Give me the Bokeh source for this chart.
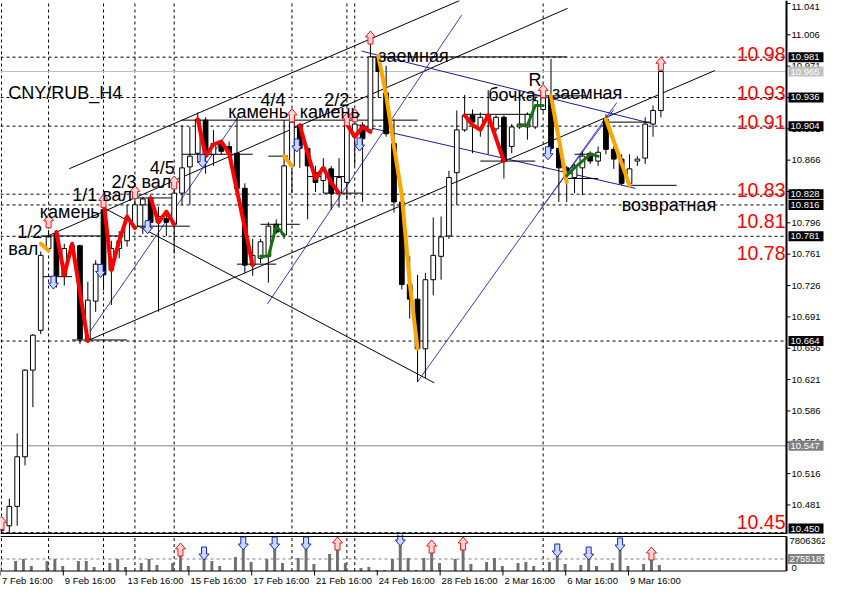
from bokeh.plotting import figure
from bokeh.models import Range1d, ColumnDataSource
from bokeh.layouts import column
from bokeh.core.properties import value
from bokeh.embed import file_html
from bokeh.resources import INLINE

# ---------------- data (CNY/RUB, H4 bars, index 0 = 7 Feb 16:00) ----------------
opens = [10.4523, 10.4577, 10.4794, 10.5348, 10.6315, 10.6760, 10.7673, 10.7836, 10.7369, 10.7673,
         10.7705, 10.6663, 10.7086, 10.8107, 10.7434, 10.7673, 10.7760, 10.7912, 10.8162, 10.8238,
         10.7966, 10.8010, 10.7944, 10.8292, 10.8585, 10.8737, 10.9107, 10.8726, 10.8846, 10.8813,
         10.8737, 10.8346, 10.7488, 10.7564, 10.7586, 10.7944, 10.7825, 10.8596, 10.9052, 10.8792,
         10.8520, 10.8433, 10.8563, 10.8292, 10.8411, 10.8922, 10.9052, 10.8998, 10.9813, 10.9411,
         10.8846, 10.8194, 10.7271, 10.7108, 10.6554, 10.7325, 10.7586, 10.7814, 10.8520, 10.8998,
         10.9161, 10.9009, 10.9117, 10.9009, 10.9139, 10.8813, 10.9031, 10.9031, 10.9031, 10.9226,
         10.9378, 10.8792, 10.8574, 10.8466, 10.8574, 10.8737, 10.8650, 10.9117, 10.8781, 10.8672,
         10.8401, 10.8650, 10.8683, 10.9063, 10.9215]
highs = [10.4545, 10.4881, 10.5609, 10.6326, 10.6717, 10.7640, 10.7879, 10.7857, 10.7727, 10.7727,
         10.7716, 10.7303, 10.7542, 10.8140, 10.7760, 10.7868, 10.8162, 10.8270, 10.8248, 10.8270,
         10.8140, 10.8053, 10.8455, 10.9052, 10.9031, 10.9193, 10.9139, 10.8998, 10.8889, 10.8868,
         10.9139, 10.8401, 10.7781, 10.7781, 10.7966, 10.7999, 10.9107, 10.9215, 10.9063, 10.8813,
         10.8596, 10.8683, 10.8596, 10.8683, 10.9139, 10.9139, 10.9085, 10.9976, 10.9823, 10.9715,
         10.9117, 10.8216, 10.7586, 10.7380, 10.7401, 10.8020, 10.8031, 10.8542, 10.9215, 10.9389,
         10.9226, 10.9193, 10.9443, 10.9161, 10.9161, 10.9063, 10.9378, 10.9193, 10.9356, 10.9411,
         10.9791, 10.8813, 10.8596, 10.8618, 10.8759, 10.8759, 10.8813, 10.9172, 10.8813, 10.8726,
         10.8726, 10.8705, 10.9139, 10.9270, 10.9660]
lows = [10.4501, 10.4501, 10.4577, 10.5251, 10.5902, 10.6717, 10.7640, 10.7238, 10.7260, 10.7640,
        10.6608, 10.6640, 10.6967, 10.7206, 10.7043, 10.7564, 10.7695, 10.7890, 10.7836, 10.7923,
        10.6967, 10.7814, 10.7618, 10.8162, 10.8162, 10.8629, 10.8509, 10.8596, 10.8726, 10.8705,
        10.8325, 10.7401, 10.7369, 10.7510, 10.7293, 10.7836, 10.7781, 10.8292, 10.8574, 10.7999,
        10.8303, 10.8292, 10.8107, 10.8129, 10.8216, 10.8596, 10.8194, 10.8976, 10.9356, 10.8922,
        10.8075, 10.7217, 10.6891, 10.6185, 10.6228, 10.7151, 10.7325, 10.7781, 10.8162, 10.8976,
        10.8737, 10.8922, 10.8726, 10.8976, 10.8455, 10.8737, 10.9009, 10.8889, 10.9009, 10.9204,
        10.8759, 10.8194, 10.8194, 10.8292, 10.8270, 10.8618, 10.8596, 10.8726, 10.8563, 10.8379,
        10.8379, 10.8596, 10.8618, 10.8922, 10.9139]
closes = [10.4534, 10.4794, 10.5348, 10.6315, 10.6706, 10.7597, 10.7803, 10.7369, 10.7673, 10.7705,
          10.6663, 10.7097, 10.7499, 10.7380, 10.7673, 10.7760, 10.8020, 10.8162, 10.8227, 10.7966,
          10.8031, 10.7966, 10.8292, 10.8574, 10.8705, 10.9117, 10.8705, 10.8846, 10.8759, 10.8737,
          10.8346, 10.7488, 10.7597, 10.7749, 10.7923, 10.7857, 10.8596, 10.9085, 10.8792, 10.8596,
          10.8411, 10.8574, 10.8292, 10.8466, 10.9052, 10.9063, 10.8900, 10.9813, 10.9650, 10.8955,
          10.8194, 10.7271, 10.7108, 10.6554, 10.7325, 10.7597, 10.7803, 10.8466, 10.8998, 10.9161,
          10.9085, 10.9139, 10.9161, 10.9139, 10.8650, 10.9031, 10.9063, 10.9172, 10.9324, 10.9356,
          10.8792, 10.8574, 10.8542, 10.8596, 10.8705, 10.8650, 10.8748, 10.8781, 10.8672, 10.8401,
          10.8563, 10.8672, 10.9063, 10.9215, 10.9650]
volumes = [1538000, 0, 2296000, 2755000, 1148000, 0, 2296000, 2755000, 1148000, 0,
           2296000, 2296000, 918000, 0, 1837000, 2755000, 918000, 0, 1837000, 2755000,
           1378000, 0, 1837000, 3674000, 1148000, 0, 2755000, 2296000, 1148000, 0,
           3214000, 5051000, 2066000, 0, 2755000, 5051000, 1837000, 0, 2985000, 5051000,
           1607000, 0, 3903000, 5051000, 1837000, 0, 689000, 918000, 230000, 230000,
           2755000, 5970000, 2985000, 230000, 2985000, 4362000, 1837000, 0, 2755000, 5051000,
           1607000, 0, 2066000, 2985000, 1148000, 0, 1837000, 2066000, 1148000, 0,
           2066000, 3444000, 1607000, 0, 1378000, 2755000, 1148000, 0, 1837000, 4822000,
           1148000, 0, 1607000, 2755000, 1378000]

date_labels = ["7 Feb 16:00", "9 Feb 16:00", "13 Feb 16:00", "15 Feb 16:00", "17 Feb 16:00",
               "21 Feb 16:00", "24 Feb 16:00", "28 Feb 16:00", "2 Mar 16:00", "6 Mar 16:00",
               "9 Mar 16:00"]
bars_per_label = 8

price_ticks = [11.041, 11.006, 10.971, 10.936, 10.901, 10.866, 10.831, 10.796, 10.761, 10.726,
               10.691, 10.656, 10.621, 10.586, 10.551, 10.516, 10.481, 10.446]
marked_levels = [10.981, 10.936, 10.904, 10.828, 10.816, 10.781, 10.664, 10.450]
bid_level = 10.965
grey_level = 10.547
vol_max = 7806362
vol_avg = 2755187
level_texts = ["10.98", "10.93", "10.91", "10.83", "10.81", "10.78", "10.45"]
level_text_prices = [10.9845, 10.9411, 10.9085, 10.8325, 10.7977, 10.7618, 10.4620]

signal_bars = [0, 6, 13, 17, 22, 37, 44, 45, 69]
up_arrow_bars = [0, 6, 13, 17, 22, 37, 44, 45, 47, 69, 84]
up_arrow_prices = [10.4610, 10.7977, 10.8205, 10.8303, 10.8411, 10.9161, 10.9117, 10.9161,
                   11.0030, 10.9432, 10.9737]
down_arrow_bars = [7, 13, 19, 26, 38, 46, 70]
down_arrow_prices = [10.7293, 10.7423, 10.7912, 10.8650, 10.8824, 10.8835, 10.8737]
vol_up_bars = [23, 43, 55, 59, 83]
vol_down_bars = [26, 31, 35, 39, 51, 71, 75, 79]

note_texts = ["CNY/RUB_H4", "1/2", "вал", "камень", "1/1 вал", "2/3 вал", "4/5", "4/4", "камень",
              "2/2", "камень", "заемная", "R", "бочка", "заемная", "возвратная"]
note_bars = [0.875, 2, 0.875, 4.875, 9, 14, 18.875, 33, 28.875, 41.125, 38, 48, 67.125, 62,
             70.125, 79]
note_prices = [10.9411, 10.7857, 10.7673, 10.8086, 10.8270, 10.8411, 10.8574, 10.9335, 10.9193,
               10.9335, 10.9193, 10.9823, 10.9552, 10.9389, 10.9411, 10.8162]

red_zigzags = [([7, 8, 9, 11], [10.7857, 10.7380, 10.7727, 10.6641]),
               ([13, 14, 15, 16, 17], [10.8216, 10.7434, 10.7760, 10.8031, 10.7901]),
               ([19, 20, 21, 22], [10.8238, 10.7966, 10.8086, 10.7944]),
               ([25, 26, 27, 28, 29, 32], [10.9117, 10.8705, 10.8835, 10.8868, 10.8737, 10.7488]),
               ([38, 39, 40, 41, 42, 43], [10.9052, 10.8737, 10.8455, 10.8574, 10.8411, 10.8292]),
               ([44, 45, 46, 47], [10.9063, 10.8922, 10.9031, 10.8976]),
               ([59, 60, 61, 62, 64], [10.9161, 10.9052, 10.8998, 10.9161, 10.8650])]
orange_zigzags = [([5, 6], [10.7727, 10.7651]),
                  ([36, 37], [10.8705, 10.8596]),
                  ([48, 49, 50, 51, 52, 53], [10.9823, 10.9389, 10.8813, 10.8270, 10.7293, 10.6554]),
                  ([70, 72], [10.9378, 10.8411]),
                  ([77, 80], [10.9117, 10.8379])]
green_zigzags = [([33, 34, 35, 36], [10.7586, 10.7586, 10.7923, 10.7825]),
                 ([66, 67, 68, 69], [10.9052, 10.9052, 10.9270, 10.9270]),
                 ([72, 73, 74, 75, 76], [10.8487, 10.8574, 10.8650, 10.8726, 10.8705])]

black_lines = [(8.625, 10.8564, 58.375, 11.0443),
               (5.625, 10.7803, 72.125, 11.0356),
               (10.875, 10.6641, 90.875, 10.9661),
               (13.0, 10.8129, 55.125, 10.6174)]
blue_lines = [(10.625, 10.6663, 30.125, 10.9139),
              (33.875, 10.7054, 58.625, 11.0280),
              (53.0, 10.6185, 78.375, 10.9302),
              (68.375, 10.8075, 78.0, 10.9226)]
navy_lines = [(45.875, 10.9878, 82.625, 10.9074),
              (44.875, 10.9063, 80.75, 10.8346)]
level_segments = [(5, 15, 10.7814), (5, 9, 10.7359), (9, 16, 10.6652), (17, 22, 10.8238),
                  (17, 24, 10.7923), (23, 53, 10.9107), (23, 32, 10.8726), (30, 35, 10.7499),
                  (33, 38, 10.7944), (34, 36.5, 10.8705), (39, 44, 10.8477), (41, 46, 10.8292),
                  (47, 72, 10.9813), (59, 67.5, 10.9172), (61, 68, 10.8650), (67, 74.5, 10.9378),
                  (72, 76, 10.8455), (73, 76, 10.8726), (76.5, 83, 10.9085), (80, 86, 10.8379)]

# ---------------- layout constants ----------------
FONT = "Liberation Sans"
AX_FONT = "9.5px"
W, MAIN_H, VOL_H = 825, 534, 57
X0, AXIS_X = -0.125, 100.0           # chart area ends at the price axis
PXB = 786 / (AXIS_X - X0)             # pixels per bar
X_END = X0 + W / PXB
P_LO, P_HI = 10.448, 11.0443
PPX = (P_HI - P_LO) / MAIN_H          # price per pixel
VPX = vol_max / 34.0                  # volume per pixel (pane 34 px high)
V_LO, V_HI = -20.5 * VPX, vol_max + 2.5 * VPX

bars = list(range(len(opens)))
x_range = Range1d(X0, X_END)


def px_x(n):
    return n / PXB


def clamp_label(y):
    return min(max(y, P_LO + 6 * PPX), P_HI - 6 * PPX)


def arrow_shapes(xs, ys, up, yscale, dx=0.0, dy=0.0):
    shape = [(0, -6.5), (5, -0.5), (2.5, -0.5), (2.5, 6.5), (-2.5, 6.5), (-2.5, -0.5), (-5, -0.5)]
    if not up:
        shape = [(sx, -sy) for sx, sy in shape]
    px = [[x + (sx + dx) / PXB for sx, _ in shape] for x in xs]
    py = [[y - (sy + dy) * yscale for _, sy in shape] for y in ys]
    return px, py


UP_LINE, UP_FILL = "#FF1010", "#FFD8D8"
DN_LINE, DN_FILL = "#2222CC", "#C8DCFF"

# ---------------- price pane ----------------
p = figure(width=W, height=MAIN_H, x_range=x_range, y_range=Range1d(P_LO, P_HI),
           output_backend="svg", toolbar_location=None, x_axis_location=None,
           y_axis_location=None, min_border=0)
p.outline_line_color = None
p.grid.grid_line_color = None

p.segment(x0=signal_bars, x1=signal_bars, y0=[P_LO] * len(signal_bars),
          y1=[P_HI] * len(signal_bars), line_color="black", line_dash="3 3", line_width=1)
p.segment(x0=[X0] * len(marked_levels), x1=[AXIS_X] * len(marked_levels), y0=marked_levels,
          y1=marked_levels, line_color="black", line_dash="3 3", line_width=1)
p.segment(x0=[X0], x1=[AXIS_X], y0=[bid_level], y1=[bid_level], line_color="#C0C0C0", line_width=1)
p.segment(x0=[X0], x1=[AXIS_X], y0=[grey_level], y1=[grey_level], line_color="#808080", line_width=1)


def seg(lines):
    return dict(x0=[l[0] for l in lines], y0=[l[1] for l in lines],
                x1=[l[2] for l in lines], y1=[l[3] for l in lines])


p.segment(source=ColumnDataSource(seg(black_lines)), x0="x0", y0="y0", x1="x1", y1="y1",
          line_color="black", line_width=1)
p.segment(source=ColumnDataSource(seg(blue_lines)), x0="x0", y0="y0", x1="x1", y1="y1",
          line_color="#3A3AC8", line_width=1)
p.segment(source=ColumnDataSource(seg(navy_lines)), x0="x0", y0="y0", x1="x1", y1="y1",
          line_color="#1A1A9A", line_width=1)
p.segment(x0=[s[0] for s in level_segments], x1=[s[1] for s in level_segments],
          y0=[s[2] for s in level_segments], y1=[s[2] for s in level_segments],
          line_color="black", line_width=1)

src = ColumnDataSource(dict(
    x=bars, h=highs, l=lows,
    top=[max(o, c) for o, c in zip(opens, closes)],
    bottom=[min(o, c) for o, c in zip(opens, closes)],
    fill=["white" if c >= o else "black" for o, c in zip(opens, closes)]))
p.segment(x0="x", y0="l", x1="x", y1="h", source=src, line_color="black", line_width=1)
p.vbar(x="x", width=0.6, top="top", bottom="bottom", fill_color="fill", line_color="black",
       line_width=1, source=src)

for xs, ys in orange_zigzags:
    p.line(xs, ys, line_color="#FFA500", line_width=4, line_join="round", line_cap="round")
for xs, ys in red_zigzags:
    p.line(xs, ys, line_color="#FF0000", line_width=4, line_join="round", line_cap="round")
for xs, ys in green_zigzags:
    p.line(xs, ys, line_color="#127512", line_width=3, line_join="round", line_cap="round")

ux, uy = arrow_shapes(up_arrow_bars, up_arrow_prices, True, PPX)
p.patches(ux, uy, fill_color=UP_FILL, line_color=UP_LINE, line_width=1)
dx_, dy_ = arrow_shapes(down_arrow_bars, down_arrow_prices, False, PPX, dx=-3)
p.patches(dx_, dy_, fill_color=DN_FILL, line_color=DN_LINE, line_width=1)

p.text(x=note_bars, y=note_prices, text=note_texts, text_font=value(FONT),
       text_font_size="18px", text_color="black", text_baseline="alphabetic")
p.text(x=[AXIS_X - px_x(1)] * len(level_texts), y=level_text_prices, text=level_texts,
       text_font=value(FONT), text_font_size="19.5px", text_color="#FF0000", text_align="right",
       text_baseline="alphabetic")

# bottom edge of the price pane
p.segment(x0=[X0], x1=[AXIS_X], y0=[P_LO + 0.8 * PPX], y1=[P_LO + 0.8 * PPX],
          line_color="black", line_width=2)

# price axis (right)
p.segment(x0=[AXIS_X], x1=[AXIS_X], y0=[P_LO], y1=[P_HI], line_color="black", line_width=2)
p.segment(x0=[AXIS_X] * len(price_ticks), x1=[AXIS_X + px_x(4)] * len(price_ticks),
          y0=price_ticks, y1=price_ticks, line_color="black", line_width=1)
p.text(x=[AXIS_X + px_x(5)] * len(price_ticks), y=[clamp_label(t) for t in price_ticks],
       text=[f"{t:.3f}" for t in price_ticks], text_font=value(FONT), text_font_size=AX_FONT,
       text_color="black", text_baseline="middle")

box_values = marked_levels + [bid_level, grey_level]
box_colors = ["black"] * len(marked_levels) + ["#C0C0C0", "#808080"]
box_y = [clamp_label(b) for b in box_values]
p.rect(x=[AXIS_X + px_x(19.5)] * len(box_values), y=box_y, width=35, height=10,
       width_units="screen", height_units="screen", fill_color=box_colors, line_color=None)
p.text(x=[AXIS_X + px_x(4)] * len(box_values), y=box_y,
       text=[f"{b:.3f}" for b in box_values], text_font=value(FONT), text_font_size=AX_FONT,
       text_color="white", text_baseline="middle")

# ---------------- volume pane ----------------
v = figure(width=W, height=VOL_H, x_range=x_range, y_range=Range1d(V_LO, V_HI),
           output_backend="svg", toolbar_location=None, x_axis_location=None,
           y_axis_location=None, min_border=0)
v.outline_line_color = None
v.grid.grid_line_color = None

v.segment(x0=signal_bars, x1=signal_bars, y0=[0] * len(signal_bars),
          y1=[vol_max] * len(signal_bars), line_color="black", line_dash="3 3", line_width=1)
v.segment(x0=[X0], x1=[AXIS_X], y0=[vol_avg], y1=[vol_avg], line_color="#808080",
          line_dash="3 3", line_width=1)
vx = [b - 0.2 for b in bars]
v.vbar(x=vx, width=0.375, top=volumes, bottom=0, fill_color="#707070", line_color=None)

vu_x, vu_y = arrow_shapes([b - 0.2 for b in vol_up_bars], [volumes[b] for b in vol_up_bars],
                          True, VPX, dy=-5.5)
v.patches(vu_x, vu_y, fill_color=UP_FILL, line_color=UP_LINE, line_width=1)
vd_x, vd_y = arrow_shapes([b - 0.2 for b in vol_down_bars], [volumes[b] for b in vol_down_bars],
                          False, VPX, dy=-5.5)
v.patches(vd_x, vd_y, fill_color=DN_FILL, line_color=DN_LINE, line_width=1)

# pane frame
v.segment(x0=[X0, X0], x1=[AXIS_X, AXIS_X], y0=[vol_max + 0.5 * VPX, 0], y1=[vol_max + 0.5 * VPX, 0],
          line_color="black", line_width=1)
v.segment(x0=[AXIS_X], x1=[AXIS_X], y0=[0], y1=[vol_max + 0.5 * VPX], line_color="black",
          line_width=2)
v.text(x=[AXIS_X + px_x(3)], y=[vol_max - 0.5 * VPX], text=[str(vol_max)],
       text_font=value(FONT), text_font_size=AX_FONT, text_color="black", text_baseline="top")
v.text(x=[AXIS_X + px_x(5)], y=[0.5 * VPX], text=["0"],
       text_font=value(FONT), text_font_size=AX_FONT, text_color="black", text_baseline="bottom")
v.rect(x=[AXIS_X + px_x(19.5)], y=[vol_avg], width=37, height=10, width_units="screen",
       height_units="screen", fill_color="#808080", line_color=None)
v.text(x=[AXIS_X + px_x(3)], y=[vol_avg], text=[str(vol_avg)], text_font=value(FONT),
       text_font_size=AX_FONT, text_color="white", text_baseline="middle")

# time axis
date_ticks = [k * bars_per_label + X0 for k in range(len(date_labels))]
v.segment(x0=date_ticks, x1=date_ticks, y0=[0] * len(date_ticks),
          y1=[-4.5 * VPX] * len(date_ticks), line_color="black", line_width=1)
v.text(x=[t + px_x(1.5) for t in date_ticks], y=[-9 * VPX] * len(date_ticks), text=date_labels,
       text_font=value(FONT), text_font_size=AX_FONT, text_color="black",
       text_baseline="middle")

layout = column(p, v, spacing=0)
open("out.html", "w").write(file_html(layout, INLINE))
